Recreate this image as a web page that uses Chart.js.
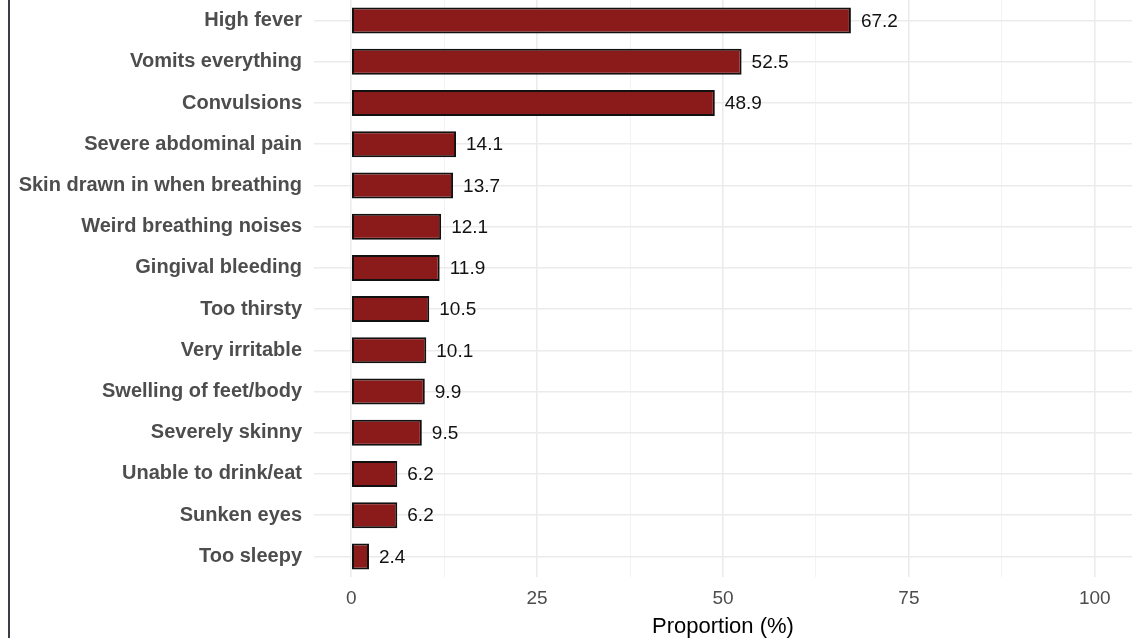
<!DOCTYPE html>
<html>
<head>
<meta charset="utf-8">
<script src="https://cdn.jsdelivr.net/npm/chart.js@4.4.1/dist/chart.umd.min.js"></script>
<style>
    body { margin: 0; background: #fff; }
    #wrap { position: relative; width: 1135px; height: 638px; }
    #edge { position: absolute; left: 8px; top: 0; width: 2px; height: 638px; background: #3d3d45; }
</style>
</head>
<body>
<div id="wrap">
    <canvas id="chart"></canvas>
    <div id="edge"></div>
</div>
<script>
const symptoms = [
    "High fever", "Vomits everything", "Convulsions", "Severe abdominal pain",
    "Skin drawn in when breathing", "Weird breathing noises", "Gingival bleeding",
    "Too thirsty", "Very irritable", "Swelling of feet/body", "Severely skinny",
    "Unable to drink/eat", "Sunken eyes", "Too sleepy"
];
const proportions = [67.2, 52.5, 48.9, 14.1, 13.7, 12.1, 11.9, 10.5, 10.1, 9.9, 9.5, 6.2, 6.2, 2.4];
const xTicks = [0, 12.5, 25, 37.5, 50, 62.5, 75, 87.5, 100];
const xTickLabels = ["0", "", "25", "", "50", "", "75", "", "100"];

Chart.defaults.font.family = "'Liberation Sans', Arial, sans-serif";

// value labels to the right of each bar
const valueLabels = {
    id: "valueLabels",
    afterDatasetsDraw(chart) {
        const ctx = chart.ctx;
        const meta = chart.getDatasetMeta(0);
        ctx.save();
        ctx.font = "19px 'Liberation Sans', Arial, sans-serif";
        ctx.fillStyle = "#111";
        ctx.textAlign = "left";
        ctx.textBaseline = "middle";
        meta.data.forEach((bar, i) => {
            ctx.fillText(proportions[i].toFixed(1), bar.x + 10, bar.y + 1);
        });
        ctx.restore();
    }
};

const ctx = document.getElementById("chart").getContext("2d");
new Chart(ctx, {
    type: "bar",
    data: {
        labels: symptoms,
        datasets: [{
            data: proportions,
            backgroundColor: "#8B1A1A",
            borderColor: "#111",
            borderWidth: 2,
            borderSkipped: false,
            barPercentage: 0.63,
            categoryPercentage: 1
        }]
    },
    options: {
        indexAxis: "y",
        responsive: true,
        maintainAspectRatio: false,
        animation: false,
        layout: { padding: { top: 0, right: 3, bottom: 0, left: 0 } },
        plugins: {
            legend: { display: false },
            tooltip: { enabled: false }
        },
        scales: {
            x: {
                type: "linear",
                min: -5,
                max: 105,
                afterBuildTicks: (scale) => {
                    scale.ticks = xTicks.map(v => ({ value: v }));
                },
                afterFit: (scale) => { scale.height = 61; },
                ticks: {
                    autoSkip: false,
                    maxRotation: 0,
                    padding: 10,
                    color: "#4d4d4d",
                    font: { size: 19 },
                    callback: (value, index) => xTickLabels[index]
                },
                grid: {
                    drawTicks: false,
                    color: (c) => (c.tick && c.tick.value % 25 === 0) ? "#ebebeb" : "#f3f3f3",
                    lineWidth: (c) => (c.tick && c.tick.value % 25 === 0) ? 1.6 : 1
                },
                border: { display: false },
                title: {
                    display: true,
                    text: "Proportion (%)",
                    color: "#000",
                    font: { size: 22, lineHeight: 1 },
                    padding: { top: 0, bottom: 0 }
                }
            },
            y: {
                afterFit: (scale) => {
                    scale.width = 314;
                    scale.paddingTop = 0;
                    scale.paddingBottom = 0;
                },
                ticks: {
                    padding: 12,
                    color: "#4d4d4d",
                    font: { size: 20, weight: "bold" }
                },
                grid: {
                    offset: false,
                    drawTicks: false,
                    color: "#ebebeb",
                    lineWidth: 1.6
                },
                border: { display: false }
            }
        }
    },
    plugins: [valueLabels]
});
</script>
</body>
</html>
